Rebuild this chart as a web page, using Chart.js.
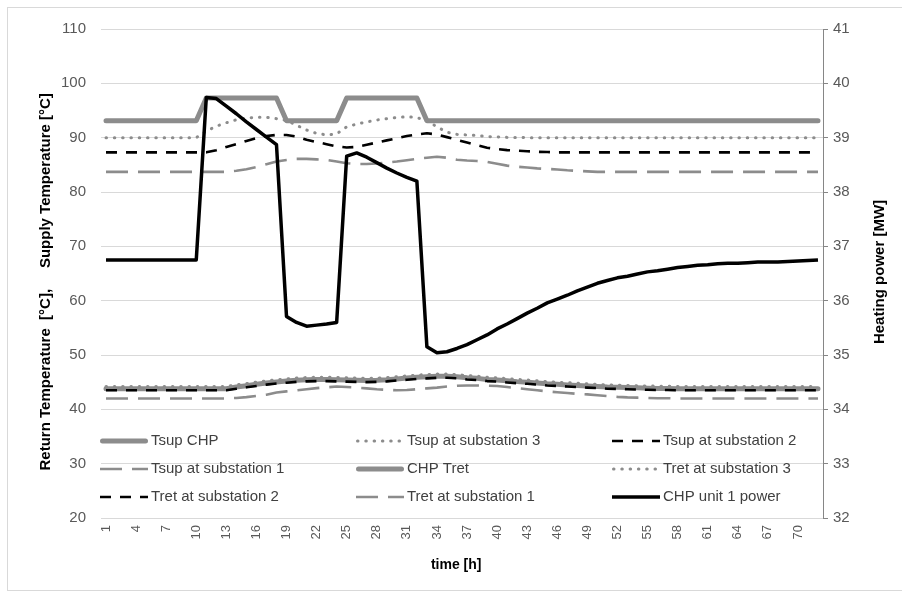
<!DOCTYPE html>
<html>
<head>
<meta charset="utf-8">
<script src="https://cdn.jsdelivr.net/npm/chart.js@4.4.1/dist/chart.umd.min.js"></script>
<style>
  html, body { margin: 0; padding: 0; background: #ffffff; }
  #wrap { width: 902px; height: 594px; position: relative; }
</style>
</head>
<body>
<div id="wrap"><canvas id="chart" width="902" height="594"></canvas></div>
<script>
// Hourly time axis
const hours = [1,2,3,4,5,6,7,8,9,10,11,12,13,14,15,16,17,18,19,20,21,22,23,24,
  25,26,27,28,29,30,31,32,33,34,35,36,37,38,39,40,41,42,43,44,45,46,47,48,
  49,50,51,52,53,54,55,56,57,58,59,60,61,62,63,64,65,66,67,68,69,70,71,72];
const labelStep = 3;

// Supply temperatures [°C]
const tsupCHP = [93.1,93.1,93.1,93.1,93.1,93.1,93.1,93.1,93.1,93.1,
  97.3,97.3,97.3,97.3,97.3,97.3,97.3,97.3,
  93.1,93.1,93.1,93.1,93.1,93.1,
  97.3,97.3,97.3,97.3,97.3,97.3,97.3,97.3,
  93.1,93.1,93.1,93.1,93.1,93.1,93.1,93.1,93.1,93.1,93.1,93.1,93.1,93.1,93.1,93.1,
  93.1,93.1,93.1,93.1,93.1,93.1,93.1,93.1,93.1,93.1,93.1,93.1,93.1,93.1,93.1,93.1,
  93.1,93.1,93.1,93.1,93.1,93.1,93.1,93.1];
const tsupSub3 = [90.0,90.0,90.0,90.0,90.0,90.0,90.0,90.0,90.0,90.0,
  91.2,92.1,92.75,93.3,93.6,93.75,93.75,93.5,93.15,92.3,
  91.4,90.8,90.5,90.7,92.0,92.5,92.9,93.25,93.5,93.7,
  93.85,93.7,93.1,92.0,91.0,90.6,90.5,90.4,90.2,90.15,
  90.05,90.05,
  90.0,90.0,90.0,90.0,90.0,90.0,90.0,90.0,90.0,90.0,90.0,90.0,90.0,90.0,90.0,
  90.0,90.0,90.0,90.0,90.0,90.0,90.0,90.0,90.0,90.0,90.0,90.0,90.0,90.0,90.0];
const tsupSub2 = [87.3,87.3,87.3,87.3,87.3,87.3,87.3,87.3,87.3,87.3,87.3,
  87.7,88.3,88.8,89.4,89.9,90.3,90.5,90.5,90.2,89.6,
  89.2,88.8,88.4,88.2,88.3,88.7,89.1,89.5,89.9,90.3,
  90.6,90.8,90.6,90.1,89.6,89.1,88.6,88.15,87.9,87.7,
  87.6,87.5,87.4,87.35,
  87.3,87.3,87.3,87.3,87.3,87.3,87.3,87.3,87.3,87.3,87.3,87.3,87.3,87.3,
  87.3,87.3,87.3,87.3,87.3,87.3,87.3,87.3,87.3,87.3,87.3,87.3,87.3];
const tsupSub1 = [83.7,83.7,83.7,83.7,83.7,83.7,83.7,83.7,83.7,83.7,83.7,83.7,83.7,
  83.9,84.2,84.6,85.1,85.6,85.9,86.1,86.1,86.0,85.9,
  85.6,85.3,85.15,85.15,85.25,85.4,85.6,85.85,86.1,86.3,
  86.5,86.3,85.95,85.8,85.7,85.55,85.2,84.85,84.65,84.5,
  84.35,84.25,84.15,84.0,83.9,83.8,
  83.7,83.7,83.7,83.7,83.7,83.7,83.7,83.7,83.7,83.7,83.7,83.7,
  83.7,83.7,83.7,83.7,83.7,83.7,83.7,83.7,83.7,83.7,83.7];

// Return temperatures [°C]
const tretCHP = [43.8,43.8,43.8,43.8,43.8,43.8,43.8,43.8,43.8,43.8,43.8,43.8,43.8,
  44.1,44.35,44.6,44.85,45.05,45.2,45.35,45.45,45.5,45.5,
  45.45,45.4,45.35,45.3,45.35,45.45,45.6,45.75,45.9,46.0,
  46.1,46.1,46.0,45.8,45.7,45.5,45.4,45.25,45.1,45.0,
  44.85,44.7,44.6,44.5,44.4,44.3,44.2,44.1,44.05,44.0,
  43.95,43.9,43.85,43.85,
  43.8,43.8,43.8,43.8,43.8,43.8,43.8,43.8,43.8,43.8,43.8,43.8,43.8,43.8,43.8];
const tretSub3 = [44.2,44.2,44.2,44.2,44.2,44.2,44.2,44.2,44.2,44.2,44.2,44.2,44.2,
  44.5,44.75,45.0,45.25,45.45,45.6,45.75,45.85,45.9,45.9,
  45.85,45.8,45.75,45.7,45.75,45.85,46.0,46.15,46.3,46.4,
  46.5,46.5,46.4,46.2,46.1,45.9,45.8,45.65,45.5,45.4,
  45.25,45.1,45.0,44.9,44.8,44.7,44.6,44.5,44.45,44.4,
  44.35,44.3,44.25,44.25,
  44.2,44.2,44.2,44.2,44.2,44.2,44.2,44.2,44.2,44.2,44.2,44.2,44.2,44.2,44.2];
const tretSub2 = [43.5,43.5,43.5,43.5,43.5,43.5,43.5,43.5,43.5,43.5,43.5,43.5,43.5,
  43.8,44.05,44.3,44.55,44.75,44.9,45.05,45.15,45.2,45.2,
  45.15,45.1,45.05,45.0,45.05,45.15,45.3,45.45,45.6,45.7,
  45.8,45.8,45.7,45.5,45.4,45.2,45.1,44.95,44.8,44.7,
  44.55,44.4,44.3,44.2,44.1,44.0,43.9,43.8,43.75,43.7,
  43.65,43.6,43.55,43.55,
  43.5,43.5,43.5,43.5,43.5,43.5,43.5,43.5,43.5,43.5,43.5,43.5,43.5,43.5,43.5];
const tretSub1 = [42.0,42.0,42.0,42.0,42.0,42.0,42.0,42.0,42.0,42.0,42.0,42.0,42.0,
  42.1,42.25,42.45,42.7,43.1,43.3,43.5,43.7,43.9,44.05,
  44.2,44.1,44.0,43.85,43.7,43.6,43.5,43.55,43.7,43.85,
  44.0,44.2,44.35,44.4,44.4,44.35,44.3,44.1,43.9,43.7,
  43.5,43.3,43.15,43.0,42.85,42.75,42.6,42.45,42.3,42.2,
  42.15,42.1,42.05,42.05,
  42.0,42.0,42.0,42.0,42.0,42.0,42.0,42.0,42.0,42.0,42.0,42.0,42.0,42.0,42.0];

// CHP unit 1 heating power [MW]
const powerCHP1 = [36.75,36.75,36.75,36.75,36.75,36.75,36.75,36.75,36.75,36.75,
  39.74,39.72,39.58,39.44,39.29,39.15,39.01,38.87,
  35.71,35.60,35.53,35.55,35.57,35.60,
  38.66,38.72,38.64,38.54,38.44,38.35,38.27,38.20,
  35.15,35.04,35.06,35.12,35.19,35.28,35.37,35.48,
  35.57,35.67,35.77,35.86,35.96,36.03,36.10,36.18,36.25,36.32,
  36.37,36.42,36.45,36.49,36.53,36.55,36.58,36.61,36.63,36.65,
  36.66,36.68,36.69,36.69,36.70,36.71,36.71,36.71,36.72,36.73,36.74,36.75];

// Axis ranges and titles
const tempRange = [20, 110];
const powerRange = [32, 41];
const leftTitle = 'Return Temperature  [°C],     Supply Temperature [°C]    ';
const rightTitle = 'Heating power [MW]';
const xTitle = 'time [h]   ';

const FONT = "'Liberation Sans', Arial, sans-serif";
const GREY = '#8c8c8c';

// Line styles
const styles = {
  thickGrey: { borderColor: GREY, borderWidth: 5, borderDash: [], borderCapStyle: 'round' },
  dotGrey:   { borderColor: GREY, borderWidth: 3, borderDash: [0.5, 7.8], borderCapStyle: 'round' },
  dashBlack: { borderColor: '#000000', borderWidth: 2.6, borderDash: [11, 9], borderCapStyle: 'butt' },
  longGrey:  { borderColor: GREY, borderWidth: 2.6, borderDash: [22, 10], borderCapStyle: 'butt' },
  solidBlack:{ borderColor: '#000000', borderWidth: 3.5, borderDash: [], borderCapStyle: 'butt' }
};

function series(label, data, style, axis) {
  return Object.assign({
    label, data, yAxisID: axis,
    fill: false, tension: 0, pointRadius: 0, pointHoverRadius: 0,
    borderJoinStyle: 'round'
  }, style);
}

const datasets = [
  series('Tsup CHP', tsupCHP, styles.thickGrey, 'y'),
  series('Tsup at substation 3', tsupSub3, styles.dotGrey, 'y'),
  series('Tsup at substation 2', tsupSub2, styles.dashBlack, 'y'),
  series('Tsup at substation 1', tsupSub1, styles.longGrey, 'y'),
  series('CHP Tret', tretCHP, styles.thickGrey, 'y'),
  series('Tret at substation 3', tretSub3, styles.dotGrey, 'y'),
  series('Tret at substation 2', tretSub2, styles.dashBlack, 'y'),
  series('Tret at substation 1', tretSub1, styles.longGrey, 'y'),
  series('CHP unit 1 power', powerCHP1, styles.solidBlack, 'y1')
];
// later series are painted on top
datasets.forEach((d, i) => { d.order = datasets.length - i; });

// White background and thin frame around the whole figure
const framePlugin = {
  id: 'frame',
  beforeDraw(chart) {
    const ctx = chart.ctx;
    ctx.save();
    ctx.fillStyle = '#ffffff';
    ctx.fillRect(0, 0, chart.width, chart.height);
    ctx.strokeStyle = '#d9d9d9';
    ctx.lineWidth = 1;
    ctx.strokeRect(7.5, 7.5, chart.width + 2, chart.height - 11);
    ctx.restore();
  }
};

// Three-column legend placed inside the lower part of the plot
const legendPlugin = {
  id: 'innerLegend',
  afterDatasetsDraw(chart) {
    const ctx = chart.ctx;
    const colX = [100, 356, 612];
    const rowY = [441, 469, 497];
    const sample = 48;
    ctx.save();
    chart.data.datasets.forEach((ds, i) => {
      const x = colX[i % 3];
      const y = rowY[Math.floor(i / 3)];
      ctx.strokeStyle = ds.borderColor;
      ctx.lineWidth = ds.borderWidth;
      ctx.setLineDash(ds.borderDash || []);
      ctx.lineCap = ds.borderCapStyle || 'butt';
      ctx.beginPath();
      const inset = ctx.lineCap === 'round' ? ds.borderWidth / 2 : 0;
      ctx.moveTo(x + inset, y);
      ctx.lineTo(x + sample - inset, y);
      ctx.stroke();
      ctx.setLineDash([]);
      ctx.fillStyle = '#404040';
      ctx.font = '15px ' + FONT;
      ctx.textAlign = 'left';
      ctx.textBaseline = 'middle';
      ctx.fillText(ds.label, x + sample + 3, y);
    });
    ctx.restore();
  }
};

// Title of the right-hand axis, reading bottom to top
const rightTitlePlugin = {
  id: 'rightTitle',
  afterDraw(chart) {
    const ctx = chart.ctx;
    ctx.save();
    ctx.translate(880, 272);
    ctx.rotate(-Math.PI / 2);
    ctx.fillStyle = '#000000';
    ctx.font = 'bold 15px ' + FONT;
    ctx.textAlign = 'center';
    ctx.textBaseline = 'middle';
    ctx.fillText(rightTitle, 0, 0);
    ctx.restore();
  }
};

new Chart(document.getElementById('chart'), {
  type: 'line',
  data: { labels: hours.map(String), datasets },
  plugins: [framePlugin, legendPlugin, rightTitlePlugin],
  options: {
    responsive: false,
    animation: false,
    devicePixelRatio: 1,
    layout: { padding: { top: 29, left: 0, right: 0, bottom: 0 } },
    plugins: { legend: { display: false }, tooltip: { enabled: false } },
    scales: {
      x: {
        type: 'category',
        offset: true,
        grid: { display: false, drawTicks: false },
        border: { display: false },
        ticks: {
          autoSkip: false, minRotation: 90, maxRotation: 90, padding: 7,
          color: '#595959', font: { family: FONT, size: 13 },
          callback(value, index) { return index % labelStep === 0 ? this.getLabelForValue(value) : ''; }
        },
        title: {
          display: true, text: xTitle, color: '#000000',
          font: { family: FONT, size: 14, weight: 'bold' },
          padding: { top: 0, bottom: 20 }
        },
        afterFit(scale) { scale.height = 76; }
      },
      y: {
        position: 'left',
        min: tempRange[0], max: tempRange[1],
        ticks: { stepSize: 10, padding: 15, color: '#595959', font: { family: FONT, size: 15 } },
        grid: { color: '#d9d9d9', lineWidth: 1, drawTicks: false },
        border: { display: false },
        title: {
          display: true, text: leftTitle, color: '#000000',
          font: { family: FONT, size: 15, weight: 'bold' },
          padding: { top: 37, bottom: 0 }
        },
        afterFit(scale) { scale.width = 101; }
      },
      y1: {
        position: 'right',
        min: powerRange[0], max: powerRange[1],
        ticks: { stepSize: 1, padding: 5, color: '#595959', font: { family: FONT, size: 15 } },
        grid: { drawOnChartArea: false, drawTicks: true, tickLength: 5, color: '#868686' },
        border: { display: true, color: '#868686', width: 1 },
        afterFit(scale) { scale.width = 79; }
      }
    }
  }
});
</script>
</body>
</html>
